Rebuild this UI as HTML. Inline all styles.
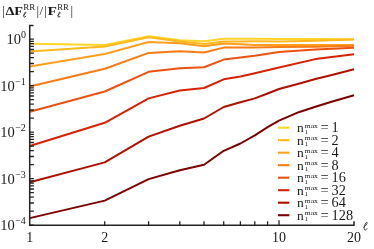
<!DOCTYPE html><html><head><meta charset="utf-8"><style>html,body{margin:0;padding:0;background:#fff;overflow:hidden}body{width:374px;height:249px}</style></head><body><svg width="374" height="249" viewBox="0 0 374 249" style="display:block;will-change:transform">
<rect width="374" height="249" fill="#fff"/>
<polyline points="29.7,43.8 104.7,45.0 148.6,36.3 179.8,40.2 204.0,41.2 223.7,38.7 240.4,38.7 254.8,38.7 279.0,39.0 315.4,39.1 354.0,39.3" fill="none" stroke="#FFD42A" stroke-width="2" stroke-linejoin="round"/>
<polyline points="29.7,51.6 104.7,46.5 148.6,37.3 179.8,41.5 204.0,44.0 223.7,41.5 240.4,41.4 254.8,41.3 279.0,41.4 315.4,40.8 354.0,39.6" fill="none" stroke="#FFB81C" stroke-width="2" stroke-linejoin="round"/>
<polyline points="29.7,66.4 104.7,54.0 148.6,42.0 179.8,43.3 204.0,46.3 223.7,43.6 240.4,44.3 254.8,45.0 279.0,44.9 315.4,44.9 354.0,45.0" fill="none" stroke="#FF9E1F" stroke-width="2" stroke-linejoin="round"/>
<polyline points="29.7,86.5 104.7,68.7 148.6,52.9 179.8,51.3 204.0,52.5 223.7,47.6 240.4,47.6 254.8,47.6 279.0,47.1 315.4,46.7 354.0,45.7" fill="none" stroke="#FA7A14" stroke-width="2" stroke-linejoin="round"/>
<polyline points="29.7,111.8 104.7,91.5 148.6,71.8 179.8,68.3 204.0,67.2 223.7,59.6 240.4,57.5 254.8,55.8 279.0,52.0 315.4,49.5 354.0,47.8" fill="none" stroke="#EB5210" stroke-width="2" stroke-linejoin="round"/>
<polyline points="29.7,146.0 104.7,122.8 148.6,98.4 179.8,90.5 204.0,88.0 223.7,79.3 240.4,76.5 254.8,73.3 279.0,67.5 315.4,59.1 354.0,54.2" fill="none" stroke="#D62200" stroke-width="2" stroke-linejoin="round"/>
<polyline points="29.7,182.3 104.7,162.4 148.6,136.6 179.8,125.8 204.0,118.5 223.7,107.0 240.4,102.2 254.8,98.4 267.6,93.5 279.0,89.0 298.7,83.8 315.4,79.0 329.9,75.5 354.0,69.3" fill="none" stroke="#AE1000" stroke-width="2" stroke-linejoin="round"/>
<polyline points="29.7,218.1 104.7,200.6 148.6,179.1 179.8,170.3 204.0,164.8 223.7,150.8 240.4,143.5 254.8,135.3 267.6,127.2 279.0,120.7 298.7,112.2 315.4,106.8 329.9,102.2 354.0,95.2" fill="none" stroke="#7A0000" stroke-width="2" stroke-linejoin="round"/>
<path d="M33.5,25.5 H29.7 V225.2 H354 V221.2" fill="none" stroke="#222" stroke-width="1.5"/>
<path d="M29.7,39.2h4.2 M29.7,85.7h4.2 M29.7,71.7h4.2 M29.7,63.5h4.2 M29.7,57.7h4.2 M29.7,53.2h4.2 M29.7,49.5h4.2 M29.7,46.4h4.2 M29.7,43.7h4.2 M29.7,41.3h4.2 M29.7,132.2h4.2 M29.7,118.2h4.2 M29.7,110.0h4.2 M29.7,104.2h4.2 M29.7,99.7h4.2 M29.7,96.0h4.2 M29.7,92.9h4.2 M29.7,90.2h4.2 M29.7,87.8h4.2 M29.7,178.7h4.2 M29.7,164.7h4.2 M29.7,156.5h4.2 M29.7,150.7h4.2 M29.7,146.2h4.2 M29.7,142.5h4.2 M29.7,139.4h4.2 M29.7,136.7h4.2 M29.7,134.3h4.2 M29.7,225.2h4.2 M29.7,211.2h4.2 M29.7,203.0h4.2 M29.7,197.2h4.2 M29.7,192.7h4.2 M29.7,189.0h4.2 M29.7,185.9h4.2 M29.7,183.2h4.2 M29.7,180.8h4.2 M104.7,225.2v-4 M148.6,225.2v-4 M179.8,225.2v-4 M204.0,225.2v-4 M223.7,225.2v-4 M240.4,225.2v-4 M254.8,225.2v-4 M267.6,225.2v-4 M279.0,225.2v-5" fill="none" stroke="#222" stroke-width="1.3"/>
<text font-family="Liberation Serif, serif" fill="#1a1a1a" font-size="14.5" x="6.6" y="44.3">10</text><text font-family="Liberation Serif, serif" fill="#1a1a1a" font-size="10" x="21" y="38.4">0</text>
<text font-family="Liberation Serif, serif" fill="#1a1a1a" font-size="14.5" x="0.2" y="90.8">10</text><text font-family="Liberation Serif, serif" fill="#1a1a1a" font-size="10" x="15.2" y="84.9">−1</text>
<text font-family="Liberation Serif, serif" fill="#1a1a1a" font-size="14.5" x="0.2" y="137.3">10</text><text font-family="Liberation Serif, serif" fill="#1a1a1a" font-size="10" x="15.2" y="131.4">−2</text>
<text font-family="Liberation Serif, serif" fill="#1a1a1a" font-size="14.5" x="0.2" y="183.8">10</text><text font-family="Liberation Serif, serif" fill="#1a1a1a" font-size="10" x="15.2" y="177.9">−3</text>
<text font-family="Liberation Serif, serif" fill="#1a1a1a" font-size="14.5" x="0.2" y="230.3">10</text><text font-family="Liberation Serif, serif" fill="#1a1a1a" font-size="10" x="15.2" y="224.4">−4</text>
<text font-family="Liberation Serif, serif" fill="#1a1a1a" font-size="14" text-anchor="middle" x="29.7" y="241.8">1</text>
<text font-family="Liberation Serif, serif" fill="#1a1a1a" font-size="14" text-anchor="middle" x="104.7" y="241.8">2</text>
<text font-family="Liberation Serif, serif" fill="#1a1a1a" font-size="14" text-anchor="middle" x="279.0" y="241.8">10</text>
<text font-family="Liberation Serif, serif" fill="#1a1a1a" font-size="14" text-anchor="middle" x="354.0" y="241.8">20</text>
<path transform="translate(363.2,222.2) scale(1.5)" d="M0.2,3.4 C1.6,2.6 2.9,0.9 2.6,0.2 C2.3,-0.4 1.4,0.7 1.0,2.3 C0.6,3.8 0.4,5.2 1.2,5.3 C1.8,5.3 2.2,4.8 2.5,4.3" fill="none" stroke="#1a1a1a" stroke-width="0.55" stroke-linecap="round"/>
<path d="M278,127.7H289.3" stroke="#FFD42A" stroke-width="2.1"/>
<text font-family="Liberation Serif, serif" fill="#1a1a1a" font-size="13.5" x="297" y="132.2">n</text>
<text font-family="Liberation Serif, serif" fill="#1a1a1a" font-size="6.5" x="304.6" y="127.6" textLength="13.4" lengthAdjust="spacingAndGlyphs">max</text>
<text font-family="Liberation Serif, serif" fill="#1a1a1a" font-size="7" x="304.6" y="133.8">1</text>
<text font-family="Liberation Serif, serif" fill="#1a1a1a" font-size="14.5" x="320.6" y="132.2">=</text>
<text font-family="Liberation Serif, serif" fill="#1a1a1a" font-size="14.3" x="331.6" y="132.2">1</text>
<path d="M278,140.2H289.3" stroke="#FFB81C" stroke-width="2.1"/>
<text font-family="Liberation Serif, serif" fill="#1a1a1a" font-size="13.5" x="297" y="144.7">n</text>
<text font-family="Liberation Serif, serif" fill="#1a1a1a" font-size="6.5" x="304.6" y="140.1" textLength="13.4" lengthAdjust="spacingAndGlyphs">max</text>
<text font-family="Liberation Serif, serif" fill="#1a1a1a" font-size="7" x="304.6" y="146.3">1</text>
<text font-family="Liberation Serif, serif" fill="#1a1a1a" font-size="14.5" x="320.6" y="144.7">=</text>
<text font-family="Liberation Serif, serif" fill="#1a1a1a" font-size="14.3" x="331.6" y="144.7">2</text>
<path d="M278,152.7H289.3" stroke="#FF9E1F" stroke-width="2.1"/>
<text font-family="Liberation Serif, serif" fill="#1a1a1a" font-size="13.5" x="297" y="157.2">n</text>
<text font-family="Liberation Serif, serif" fill="#1a1a1a" font-size="6.5" x="304.6" y="152.6" textLength="13.4" lengthAdjust="spacingAndGlyphs">max</text>
<text font-family="Liberation Serif, serif" fill="#1a1a1a" font-size="7" x="304.6" y="158.8">1</text>
<text font-family="Liberation Serif, serif" fill="#1a1a1a" font-size="14.5" x="320.6" y="157.2">=</text>
<text font-family="Liberation Serif, serif" fill="#1a1a1a" font-size="14.3" x="331.6" y="157.2">4</text>
<path d="M278,165.2H289.3" stroke="#FA7A14" stroke-width="2.1"/>
<text font-family="Liberation Serif, serif" fill="#1a1a1a" font-size="13.5" x="297" y="169.7">n</text>
<text font-family="Liberation Serif, serif" fill="#1a1a1a" font-size="6.5" x="304.6" y="165.1" textLength="13.4" lengthAdjust="spacingAndGlyphs">max</text>
<text font-family="Liberation Serif, serif" fill="#1a1a1a" font-size="7" x="304.6" y="171.3">1</text>
<text font-family="Liberation Serif, serif" fill="#1a1a1a" font-size="14.5" x="320.6" y="169.7">=</text>
<text font-family="Liberation Serif, serif" fill="#1a1a1a" font-size="14.3" x="331.6" y="169.7">8</text>
<path d="M278,177.7H289.3" stroke="#EB5210" stroke-width="2.1"/>
<text font-family="Liberation Serif, serif" fill="#1a1a1a" font-size="13.5" x="297" y="182.2">n</text>
<text font-family="Liberation Serif, serif" fill="#1a1a1a" font-size="6.5" x="304.6" y="177.6" textLength="13.4" lengthAdjust="spacingAndGlyphs">max</text>
<text font-family="Liberation Serif, serif" fill="#1a1a1a" font-size="7" x="304.6" y="183.8">1</text>
<text font-family="Liberation Serif, serif" fill="#1a1a1a" font-size="14.5" x="320.6" y="182.2">=</text>
<text font-family="Liberation Serif, serif" fill="#1a1a1a" font-size="14.3" x="331.6" y="182.2">16</text>
<path d="M278,190.2H289.3" stroke="#D62200" stroke-width="2.1"/>
<text font-family="Liberation Serif, serif" fill="#1a1a1a" font-size="13.5" x="297" y="194.7">n</text>
<text font-family="Liberation Serif, serif" fill="#1a1a1a" font-size="6.5" x="304.6" y="190.1" textLength="13.4" lengthAdjust="spacingAndGlyphs">max</text>
<text font-family="Liberation Serif, serif" fill="#1a1a1a" font-size="7" x="304.6" y="196.3">1</text>
<text font-family="Liberation Serif, serif" fill="#1a1a1a" font-size="14.5" x="320.6" y="194.7">=</text>
<text font-family="Liberation Serif, serif" fill="#1a1a1a" font-size="14.3" x="331.6" y="194.7">32</text>
<path d="M278,202.7H289.3" stroke="#AE1000" stroke-width="2.1"/>
<text font-family="Liberation Serif, serif" fill="#1a1a1a" font-size="13.5" x="297" y="207.2">n</text>
<text font-family="Liberation Serif, serif" fill="#1a1a1a" font-size="6.5" x="304.6" y="202.6" textLength="13.4" lengthAdjust="spacingAndGlyphs">max</text>
<text font-family="Liberation Serif, serif" fill="#1a1a1a" font-size="7" x="304.6" y="208.8">1</text>
<text font-family="Liberation Serif, serif" fill="#1a1a1a" font-size="14.5" x="320.6" y="207.2">=</text>
<text font-family="Liberation Serif, serif" fill="#1a1a1a" font-size="14.3" x="331.6" y="207.2">64</text>
<path d="M278,215.2H289.3" stroke="#7A0000" stroke-width="2.1"/>
<text font-family="Liberation Serif, serif" fill="#1a1a1a" font-size="13.5" x="297" y="219.7">n</text>
<text font-family="Liberation Serif, serif" fill="#1a1a1a" font-size="6.5" x="304.6" y="215.1" textLength="13.4" lengthAdjust="spacingAndGlyphs">max</text>
<text font-family="Liberation Serif, serif" fill="#1a1a1a" font-size="7" x="304.6" y="221.3">1</text>
<text font-family="Liberation Serif, serif" fill="#1a1a1a" font-size="14.5" x="320.6" y="219.7">=</text>
<text font-family="Liberation Serif, serif" fill="#1a1a1a" font-size="14.3" x="331.6" y="219.7">128</text>
<text font-family="Liberation Serif, serif" fill="#1a1a1a" font-size="13" x="2.2" y="14.7">|</text>
<text font-family="Liberation Serif, serif" fill="#1a1a1a" font-size="12" font-weight="bold" x="5.4" y="14.7" textLength="17.6" lengthAdjust="spacingAndGlyphs">ΔF</text>
<text font-family="Liberation Serif, serif" fill="#1a1a1a" font-size="8" x="23.3" y="9.8" textLength="12" lengthAdjust="spacingAndGlyphs">RR</text>
<path transform="translate(23.2,12.0) scale(1.0)" d="M0.2,3.4 C1.6,2.6 2.9,0.9 2.6,0.2 C2.3,-0.4 1.4,0.7 1.0,2.3 C0.6,3.8 0.4,5.2 1.2,5.3 C1.8,5.3 2.2,4.8 2.5,4.3" fill="none" stroke="#1a1a1a" stroke-width="0.8" stroke-linecap="round"/>
<text font-family="Liberation Serif, serif" fill="#1a1a1a" font-size="13" x="36.4" y="14.7">|</text>
<text font-family="Liberation Serif, serif" fill="#1a1a1a" font-size="13" x="39.6" y="14.7">/</text>
<text font-family="Liberation Serif, serif" fill="#1a1a1a" font-size="13" x="43.9" y="14.7">|</text>
<text font-family="Liberation Serif, serif" fill="#1a1a1a" font-size="12" font-weight="bold" x="47.6" y="14.7" textLength="9.4" lengthAdjust="spacingAndGlyphs">F</text>
<text font-family="Liberation Serif, serif" fill="#1a1a1a" font-size="8" x="57.3" y="9.8" textLength="11.6" lengthAdjust="spacingAndGlyphs">RR</text>
<path transform="translate(57.5,12.0) scale(1.0)" d="M0.2,3.4 C1.6,2.6 2.9,0.9 2.6,0.2 C2.3,-0.4 1.4,0.7 1.0,2.3 C0.6,3.8 0.4,5.2 1.2,5.3 C1.8,5.3 2.2,4.8 2.5,4.3" fill="none" stroke="#1a1a1a" stroke-width="0.8" stroke-linecap="round"/>
<text font-family="Liberation Serif, serif" fill="#1a1a1a" font-size="13" x="70.5" y="14.7">|</text>
</svg></body></html>
